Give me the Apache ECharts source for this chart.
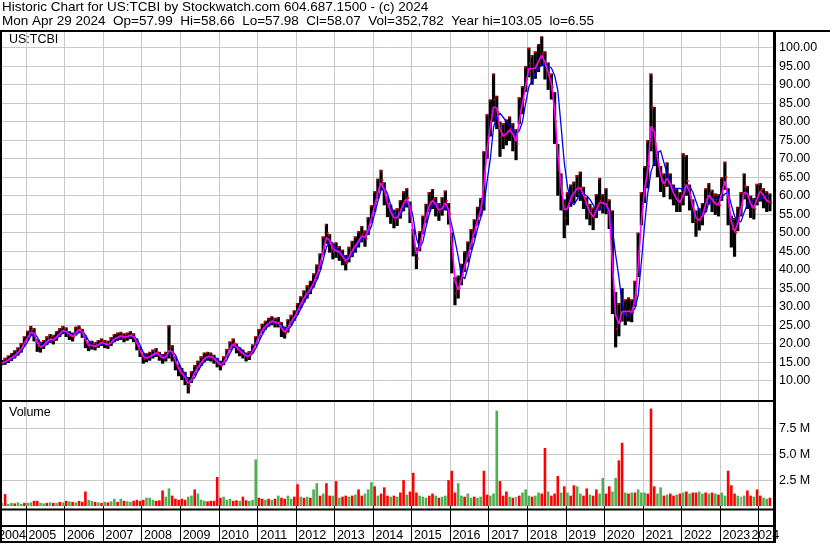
<!DOCTYPE html>
<html><head><meta charset="utf-8">
<script src="https://cdn.jsdelivr.net/npm/echarts@6/dist/echarts.min.js"></script>
<style>html,body{margin:0;padding:0;background:#fff;}#c{width:830px;height:543px;}</style>
</head><body><div id="c"></div>
<script>
// ---------------- data ----------------
const headerLine1 = 'Historic Chart for US:TCBI by Stockwatch.com 604.687.1500 - (c) 2024';
const headerLine2 = 'Mon Apr 29 2024  Op=57.99  Hi=58.66  Lo=57.98  Cl=58.07  Vol=352,782  Year hi=103.05  lo=6.55';
const symbolLabel = 'US:TCBI';
const volumeLabel = 'Volume';
const firstMonth = [2004, 5]; // monthly samples, May 2004 .. Apr 2024

const close = [
14.8,15.2,15.8,16.4,17.0,17.9,18.8,20.8,
22.0,23.6,22.4,19.4,19.0,19.8,20.8,21.4,21.0,22.2,23.0,23.8,
23.0,22.2,21.8,23.4,24.0,22.8,20.4,19.2,19.6,19.2,20.0,20.4,
19.8,19.6,20.6,21.6,21.8,22.2,21.6,22.0,22.4,21.6,19.6,17.6,
15.9,16.2,16.6,17.2,17.6,16.6,16.0,16.4,19.0,17.4,14.6,12.6,
11.8,10.6,8.6,11.0,12.8,14.0,15.2,16.2,16.6,16.4,15.8,14.8,
14.0,15.4,17.4,19.4,20.2,18.6,17.8,17.2,16.4,16.8,18.6,20.6,
22.6,24.0,25.0,25.8,26.2,25.6,25.8,23.6,22.8,25.0,26.4,27.6,
29.4,31.2,32.8,34.0,35.2,37.0,39.4,42.2,46.4,49.8,47.0,44.8,
45.2,44.4,43.2,41.8,44.0,45.6,46.8,48.2,49.6,48.4,51.8,55.0,
58.4,62.0,64.2,60.4,57.0,55.0,53.6,54.2,56.4,58.6,59.4,55.6,
47.0,43.0,47.6,52.0,55.2,58.2,59.0,57.0,55.6,57.0,58.6,55.0,
44.0,33.6,35.0,38.6,42.0,44.6,48.0,51.0,54.4,56.8,66.0,76.0,
80.0,86.0,82.6,75.8,76.2,77.0,78.2,76.0,74.0,83.0,86.0,91.6,
95.8,93.6,95.0,97.0,98.4,95.0,92.4,89.4,80.0,67.0,60.6,54.0,
57.6,60.0,61.0,62.4,62.0,59.4,56.8,55.0,54.0,57.0,58.6,57.8,
57.6,55.0,35.0,24.0,26.0,30.0,28.0,29.0,28.4,33.0,45.0,57.0,
64.0,68.0,84.0,74.0,68.6,64.0,62.8,65.6,62.0,60.0,58.6,58.0,
61.0,64.0,59.6,56.0,53.0,53.4,55.0,59.0,60.6,58.4,57.6,57.4,
62.0,65.0,57.0,51.0,50.0,53.6,57.6,62.6,59.4,57.0,56.4,60.4,
61.6,59.4,58.4,58.07];

const high = [
15.6,16.2,16.8,17.5,18.2,19.0,20.2,22.0,
23.5,24.8,24.2,21.2,20.4,21.0,22.0,22.6,22.4,23.4,24.2,24.8,
24.4,23.4,23.0,24.6,24.9,24.0,22.2,20.4,20.8,20.4,21.0,21.4,
21.0,20.8,21.8,22.6,23.0,23.2,22.8,23.0,23.4,22.8,21.4,19.2,
17.4,17.4,17.8,18.4,18.8,17.8,17.2,17.8,25.0,19.6,16.6,14.4,
13.4,12.4,11.0,12.6,14.2,15.4,16.6,17.6,17.8,17.6,17.0,16.2,
15.4,16.6,18.6,20.6,21.4,20.0,19.0,18.4,17.6,18.0,19.8,22.0,
24.0,25.4,26.2,27.0,27.4,27.0,27.2,25.8,24.6,26.6,27.8,29.0,
31.0,32.8,34.4,35.8,37.0,39.0,41.4,44.4,49.0,52.4,49.6,47.0,
47.4,46.4,45.4,44.0,46.2,47.8,49.0,50.4,51.8,50.6,54.2,57.4,
61.2,64.6,67.0,63.6,59.8,57.6,56.2,56.6,58.8,61.2,62.0,58.4,
51.0,46.0,50.4,54.6,57.8,61.0,61.8,59.6,58.0,59.6,61.4,58.0,
50.0,38.0,38.4,41.6,45.0,47.6,51.0,53.6,57.0,59.4,72.0,82.0,
86.0,93.0,87.0,80.0,79.6,80.6,81.4,79.6,78.0,86.6,89.6,95.0,
100.0,98.0,99.0,101.0,103.05,99.0,96.0,93.0,88.0,74.0,66.0,59.0,
61.0,63.0,63.8,65.6,66.5,62.4,59.6,57.8,56.8,60.4,64.8,60.4,
62.0,59.0,56.0,34.0,31.0,35.0,32.0,32.5,32.0,37.0,50.0,61.0,
68.0,75.0,93.0,84.0,72.0,68.0,66.0,69.0,66.0,63.0,62.0,61.0,
71.5,71.0,63.0,59.0,56.0,56.6,58.0,62.0,63.4,61.6,60.6,60.4,
65.0,69.2,62.0,54.6,54.0,57.0,61.0,66.0,62.6,60.0,59.4,63.2,
63.4,62.0,61.2,60.6];

const low = [
14.2,14.3,14.8,15.3,16.0,16.8,17.6,19.4,
20.8,22.2,20.6,17.8,17.6,18.6,19.6,20.2,19.8,20.8,21.8,22.6,
21.8,21.0,20.6,22.2,22.8,21.6,18.8,18.0,18.4,18.2,18.9,19.4,
18.8,18.6,19.4,20.4,20.8,21.0,20.4,20.8,21.2,20.4,18.2,16.4,
14.6,15.0,15.4,16.0,16.4,15.4,14.6,15.2,16.0,15.2,12.8,11.2,
10.2,8.8,6.55,9.4,11.4,12.8,14.0,15.0,15.4,15.2,14.6,13.6,
12.8,14.2,16.2,18.2,18.8,17.4,16.6,16.0,15.2,15.6,17.4,19.4,
21.2,22.8,23.8,24.6,25.0,24.4,24.4,21.8,21.4,23.0,25.0,26.2,
27.8,29.6,31.2,32.2,33.4,35.2,37.4,40.0,44.0,47.0,44.6,42.8,
43.2,42.4,41.2,39.8,42.0,43.4,44.6,46.0,47.4,46.2,49.4,52.6,
55.6,59.2,61.4,57.4,54.2,52.4,51.2,51.8,53.8,55.8,56.8,52.6,
43.6,40.2,45.0,49.6,52.6,55.6,56.4,54.4,53.2,54.6,56.0,52.2,
39.0,30.4,32.2,35.8,39.4,42.0,45.4,48.6,52.0,54.4,56.0,70.0,
76.0,80.0,78.0,70.5,72.6,73.6,74.8,72.0,69.6,79.4,82.0,88.0,
92.0,90.0,91.6,93.4,95.0,91.4,88.6,86.0,74.0,60.0,56.0,48.5,
52.0,57.0,58.0,59.6,58.6,56.4,53.6,52.0,50.7,54.0,56.0,55.2,
55.0,51.0,28.0,19.0,22.0,26.0,25.0,26.0,25.8,30.0,38.0,52.0,
58.0,62.0,72.0,68.0,65.0,61.0,59.6,62.4,59.0,57.4,55.6,55.6,
57.4,60.0,56.0,52.6,48.9,50.6,52.0,55.6,57.6,55.6,54.8,54.4,
58.6,61.6,52.0,46.0,43.5,50.4,54.4,59.0,56.4,54.0,53.6,57.4,
58.4,56.6,55.6,55.8];

const maFast = [
14.8,15.1,15.6,16.2,16.8,17.6,18.5,20.1,
21.6,23.1,22.8,20.4,19.1,19.5,20.5,21.2,21.1,21.8,22.7,23.5,
23.3,22.5,21.9,22.9,23.8,23.2,21.2,19.6,19.5,19.3,19.7,20.3,
20.0,19.7,20.3,21.3,21.7,22.1,21.8,21.9,22.3,21.9,20.3,18.3,
16.5,16.1,16.5,17.0,17.5,16.9,16.2,16.3,18.1,17.9,15.5,13.3,
12.1,11.0,9.3,10.2,12.2,13.6,14.8,15.9,16.5,16.5,16.0,15.1,
14.3,14.9,16.7,18.7,19.9,19.1,18.1,17.4,16.7,16.7,18.0,19.9,
21.9,23.5,24.7,25.5,26.1,25.8,25.7,24.3,23.1,24.3,25.9,27.2,
28.8,30.6,32.3,33.6,34.8,36.4,38.6,41.3,45.0,48.7,47.9,45.5,
45.1,44.7,43.6,42.3,43.3,45.1,46.4,47.7,49.1,48.8,50.7,53.9,
57.3,60.8,63.5,61.7,58.1,55.7,54.1,54.0,55.7,57.9,59.1,56.9,
49.9,44.3,46.1,50.5,54.1,57.2,58.7,57.7,56.1,56.5,58.1,56.2,
47.7,37.1,34.5,37.4,40.9,43.7,46.9,50.0,53.3,56.0,62.9,72.7,
78.7,84.0,83.7,78.1,76.1,76.7,77.8,76.7,74.7,80.0,85.0,89.7,
94.4,94.3,94.5,96.3,97.9,96.1,93.3,90.4,83.1,71.3,62.7,56.2,
56.4,59.2,60.7,61.9,62.1,60.3,57.7,55.6,54.3,56.0,58.1,58.1,
57.7,55.9,41.7,27.7,25.3,28.7,28.7,28.7,28.6,31.5,41.0,53.0,
61.7,66.7,78.7,77.3,70.4,65.5,63.2,64.7,63.2,60.7,59.1,58.2,
60.0,63.0,61.1,57.2,54.0,53.3,54.5,57.7,60.1,59.1,57.9,57.5,
60.5,64.0,59.7,53.0,50.3,52.4,56.3,60.9,60.5,57.8,56.6,59.1,
61.2,60.1,58.7,58.2];

const maSlow = [
14.8,15.0,15.3,15.8,16.4,17.1,17.9,19.2,
20.5,22.1,22.7,21.8,20.3,19.4,19.9,20.7,21.1,21.5,22.1,23.0,
23.3,23.0,22.3,22.5,23.1,23.4,22.4,20.8,19.7,19.3,19.6,19.9,
20.1,19.9,20.0,20.6,21.3,21.9,21.9,21.9,22.0,22.0,21.2,19.6,
17.7,16.6,16.2,16.7,17.1,17.1,16.7,16.3,17.1,17.6,17.0,14.9,
13.0,11.7,10.3,10.1,10.8,12.6,14.0,15.1,16.0,16.4,16.3,15.7,
14.9,14.7,15.6,17.4,19.0,19.4,18.9,17.9,17.1,16.8,17.3,18.7,
20.6,22.4,23.9,24.9,25.7,25.9,25.9,25.0,24.1,23.8,24.7,26.3,
27.8,29.4,31.1,32.7,34.0,35.4,37.2,39.5,42.7,46.1,47.7,47.2,
45.7,44.8,44.3,43.1,43.0,43.8,45.5,46.9,48.2,48.7,49.9,51.7,
55.1,58.5,61.5,62.2,60.5,57.5,55.2,54.3,54.7,56.4,58.1,57.9,
54.0,48.5,45.9,47.5,51.6,55.1,57.5,58.1,57.2,56.5,57.1,55.5,
52.0,48.0,43.5,38.5,37.5,40.5,44.5,47.5,51.0,54.0,57.0,64.0,
70.0,78.5,81.5,82.3,81.2,80.0,78.8,78.0,76.5,77.5,80.0,85.0,
89.5,91.0,93.0,94.5,95.3,95.5,95.0,94.5,92.5,88.5,79.0,69.0,
62.5,58.5,57.5,59.0,60.7,60.5,60.0,59.0,57.5,56.0,56.2,56.8,
57.0,55.5,51.0,44.0,38.0,31.0,27.5,27.5,28.5,29.5,33.0,42.0,
52.0,60.7,66.5,69.0,71.5,72.2,69.0,66.0,63.5,62.0,62.0,62.0,
61.5,62.0,62.5,61.0,58.5,56.0,55.0,55.5,58.0,59.0,59.0,59.0,
59.5,60.5,61.0,57.5,54.5,53.0,53.0,55.5,57.6,58.5,59.0,59.0,
59.0,59.5,60.0,60.0];

// volume in millions of shares
const volume = [
0.3,1.15,0.2,0.3,0.25,0.35,0.2,0.3,
0.3,0.35,0.5,0.5,0.3,0.25,0.3,0.35,0.3,0.3,0.4,0.35,
0.5,0.45,0.4,0.35,0.5,0.4,1.4,0.6,0.5,0.4,0.35,0.3,
0.4,0.35,0.45,0.7,0.4,0.7,0.5,0.45,0.4,0.5,0.6,0.5,
0.6,0.8,0.8,0.6,0.5,0.55,1.5,0.9,1.7,1.0,0.7,0.6,
0.7,0.6,0.9,1.0,1.6,1.2,0.6,0.5,0.45,0.5,0.5,2.8,
0.8,0.9,0.6,0.7,0.5,0.55,0.5,0.9,0.55,0.5,0.6,4.5,
0.8,0.7,0.6,0.7,0.6,0.7,1.0,0.8,0.7,1.0,0.7,0.9,
2.1,0.9,0.8,0.9,0.8,1.6,2.2,1.0,1.2,2.2,1.0,1.0,
2.4,0.8,0.9,1.0,0.9,1.0,1.1,1.6,1.0,1.2,1.6,2.3,
1.9,1.0,1.2,1.8,1.0,0.9,1.0,0.9,1.3,2.5,1.1,1.4,
3.2,1.3,1.0,0.9,0.8,1.0,1.2,1.0,0.8,0.9,1.0,2.5,
3.4,1.3,2.2,1.0,0.9,1.2,0.8,0.9,0.8,0.9,3.4,1.1,
1.0,1.2,9.2,2.4,1.0,1.4,0.9,0.8,0.9,1.0,1.3,1.6,
1.0,0.9,1.0,1.3,1.2,5.6,1.4,1.0,1.2,2.9,1.3,1.9,
1.3,1.0,2.0,1.9,1.2,1.0,1.7,1.1,1.0,1.6,1.2,2.7,
1.2,1.9,1.4,2.7,4.4,6.1,1.3,1.2,1.3,1.3,1.6,1.3,
1.3,1.2,9.4,1.9,1.2,1.8,1.0,1.1,1.2,1.0,1.1,1.2,
1.3,1.4,1.2,1.3,1.3,1.4,1.2,1.3,1.2,1.3,1.2,1.1,
1.3,1.0,3.4,2.0,1.2,1.0,0.9,1.0,1.5,1.0,0.9,1.6,
1.0,0.8,0.7,0.8];

// 1 = up (green), -1 = down (red), 0 = unchanged (grey)
const volumeDir = [
0,-1,1,1,-1,1,1,-1,
1,1,-1,-1,1,1,-1,1,-1,1,-1,1,
-1,1,-1,1,-1,-1,-1,1,1,-1,1,-1,
1,-1,1,1,-1,1,-1,1,1,-1,-1,-1,
-1,1,1,1,-1,-1,-1,1,1,-1,-1,-1,
-1,-1,1,1,-1,1,1,1,-1,-1,-1,-1,
-1,1,1,1,-1,-1,1,-1,-1,1,1,1,
-1,-1,1,-1,1,-1,1,-1,-1,1,1,-1,
-1,1,-1,1,-1,1,1,-1,1,-1,-1,1,
-1,1,-1,-1,1,-1,1,-1,-1,1,1,1,
-1,1,-1,-1,-1,1,-1,1,-1,-1,1,-1,
-1,-1,1,1,1,-1,-1,1,-1,1,1,-1,
-1,-1,1,1,-1,1,1,-1,1,1,-1,-1,
1,1,1,-1,-1,-1,1,-1,0,-1,1,1,
1,-1,1,1,-1,-1,1,-1,-1,-1,1,-1,
1,-1,-1,1,1,-1,-1,1,-1,-1,1,1,
-1,-1,1,1,-1,-1,1,-1,1,-1,1,1,
1,-1,-1,-1,1,1,-1,1,-1,-1,1,-1,
1,-1,1,-1,-1,1,1,-1,1,-1,1,-1,
1,1,-1,-1,-1,1,0,1,-1,-1,1,-1,
-1,1,1,-1];

const yearTicks = [2005,2006,2007,2008,2009,2010,2011,2012,2013,2014,2015,2016,2017,2018,2019,2020,2021,2022,2023,2024];
const yearLabels = ['2004','2005','2006','2007','2008','2009','2010','2011','2012','2013','2014','2015','2016','2017','2018','2019','2020','2021','2022','2023','2024'];
const priceTicks = [10,15,20,25,30,35,40,45,50,55,60,65,70,75,80,85,90,95,100];
const volumeTicks = [2.5,5.0,7.5];

// ---------------- layout / style ----------------
const FONT = "'Liberation Sans', Arial, sans-serif";
const X_MIN = 2004.378, X_MAX = 2024.372;
const P_MIN = 4.784, P_MAX = 104.24;
const V_MAX = 10.04;
const GRID_COLOR = '#c8c8c8';
const LABEL_SHIFT = 0.423; // label centre offset from year line (in years)

const times = close.map((_, i) => {
  const m = firstMonth[1] - 1 + i;
  return firstMonth[0] + Math.floor(m / 12) + ((m % 12) + 0.5) / 12;
});
const ohlc = times.map((t, i) => [t, high[i], low[i], close[i]]);
const fastLine = times.map((t, i) => [t, maFast[i]]);
const slowLine = times.map((t, i) => [t, maSlow[i]]);
const volColors = {'1': '#4caf50', '-1': '#ff0000', '0': '#a0a0a0'};
const volData = times.map((t, i) => ({value: [t, volume[i]], itemStyle: {color: volColors[String(volumeDir[i])]}}));

const labelPos = yearLabels.map((s, i) => {
  if (i === 0) return (X_MIN + yearTicks[0]) / 2 - 0.05;
  if (i === yearLabels.length - 1) return X_MAX - 0.2;
  return Number(s) + LABEL_SHIFT;
});

const chart = echarts.init(document.getElementById('c'), null, {renderer: 'canvas'});

function frameRect(x, y, w, h) {
  return {type: 'rect', z: 100, silent: true, shape: {x, y, width: w, height: h}, style: {fill: '#000'}};
}
function txt(x, y, s, size) {
  return {type: 'text', z: 100, silent: true, x, y, style: {text: s, font: size + 'px ' + FONT, fill: '#000', textVerticalAlign: 'middle', verticalAlign: 'middle'}};
}

chart.setOption({
  animation: false,
  backgroundColor: '#fff',
  grid: [
    {left: 2, top: 32, width: 771, height: 368, containLabel: false, outerBoundsMode: 'none'},
    {left: 2, top: 402, width: 771, height: 104, containLabel: false, outerBoundsMode: 'none'}
  ],
  xAxis: [
    {type: 'value', gridIndex: 0, min: X_MIN, max: X_MAX,
     axisLine: {show: false}, axisTick: {show: false, customValues: yearTicks}, axisLabel: {show: false},
     splitLine: {show: true, lineStyle: {color: GRID_COLOR, width: 1}}},
    {type: 'value', gridIndex: 1, min: X_MIN, max: X_MAX,
     axisLine: {show: false},
     axisTick: {show: true, inside: false, length: 36, customValues: yearTicks, lineStyle: {color: '#000', width: 1}},
     axisLabel: {show: true, customValues: labelPos, hideOverlap: false, margin: 23, color: '#000', fontSize: 12.5, fontFamily: FONT,
                 formatter: v => yearLabels[Math.floor(v) - 2004]},
     splitLine: {show: true, lineStyle: {color: GRID_COLOR, width: 1}}}
  ],
  yAxis: [
    {type: 'value', gridIndex: 0, position: 'right', min: P_MIN, max: P_MAX,
     axisLine: {show: false}, axisTick: {show: false, customValues: priceTicks},
     axisLabel: {customValues: priceTicks, margin: 6, color: '#000', fontSize: 12.5, fontFamily: FONT, hideOverlap: false,
                 formatter: v => v.toFixed(2)},
     splitLine: {show: true, lineStyle: {color: GRID_COLOR, width: 1}}},
    {type: 'value', gridIndex: 1, position: 'right', min: 0, max: V_MAX,
     axisLine: {show: false}, axisTick: {show: false, customValues: volumeTicks},
     axisLabel: {customValues: volumeTicks, margin: 6, color: '#000', fontSize: 12.5, fontFamily: FONT, hideOverlap: false,
                 formatter: v => v.toFixed(1) + ' M'},
     splitLine: {show: true, lineStyle: {color: GRID_COLOR, width: 1}}}
  ],
  series: [
    {type: 'custom', name: 'price', xAxisIndex: 0, yAxisIndex: 0, clip: true,
     encode: {x: 0, y: [1, 2, 3]},
     data: ohlc,
     renderItem: (params, api) => {
       const t = api.value(0);
       const top = api.coord([t, api.value(1)]);
       const bot = api.coord([t, api.value(2)]);
       const cl = api.coord([t, api.value(3)]);
       const w = 3.2;
       return {type: 'group', children: [
         {type: 'rect', shape: {x: top[0] - w / 2, y: top[1], width: w, height: Math.max(1, bot[1] - top[1])}, style: {fill: '#000'}},
         {type: 'rect', shape: {x: top[0] - w / 2, y: top[1], width: 1.5, height: 2}, style: {fill: '#ff0000'}},
         {type: 'rect', shape: {x: cl[0] + 0.3, y: cl[1] - 1, width: 2, height: 2}, style: {fill: '#ff0000'}}
       ]};
     }},
    {type: 'line', name: 'slow', xAxisIndex: 0, yAxisIndex: 0, data: slowLine, showSymbol: false, symbol: 'none',
     lineStyle: {color: '#0000ff', width: 1.3}, z: 3},
    {type: 'line', name: 'fast', xAxisIndex: 0, yAxisIndex: 0, data: fastLine, showSymbol: false, symbol: 'none',
     lineStyle: {color: '#ff00ff', width: 1.6}, z: 4},
    {type: 'bar', name: 'volume', xAxisIndex: 1, yAxisIndex: 1, data: volData, barWidth: 2.6, barGap: '-100%'}
  ],
  graphic: [
    txt(2, 7, headerLine1, 13.5),
    txt(2, 21.5, headerLine2, 13.5),
    txt(9, 40, symbolLabel, 12.5),
    txt(9, 413, volumeLabel, 12.5),
    frameRect(0, 30, 830, 2),
    frameRect(0, 30, 2, 513),
    frameRect(773, 30, 3, 513),
    frameRect(0, 400, 776, 2),
    frameRect(0, 508.5, 776, 2),
    frameRect(0, 525, 776, 2),
    frameRect(0, 541, 776, 2)
  ]
});
</script></body></html>
